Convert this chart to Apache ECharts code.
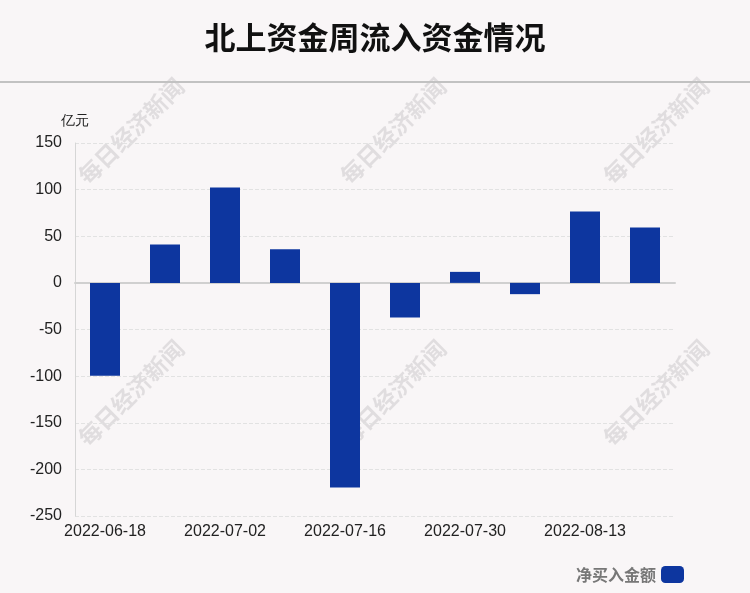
<!DOCTYPE html>
<html><head><meta charset="utf-8">
<script src="https://cdn.jsdelivr.net/npm/echarts@6/dist/echarts.min.js"></script>
<style>html,body{margin:0;padding:0;background:#f9f6f7}#c{width:750px;height:593px}</style>
</head><body><div id="c"></div>
<script>
var categories = ['2022-06-18','2022-06-25','2022-07-02','2022-07-09','2022-07-16','2022-07-23','2022-07-30','2022-08-06','2022-08-13','2022-08-20'];
var netBuy = [-99.5, 41.2, 102.3, 36.1, -219.4, -37.1, 11.8, -12.1, 76.6, 59.4];
var seriesName = '净买入金额';
var titleText = '北上资金周流入资金情况';
var unitName = '亿元';
var watermark = '每日经济新闻';

var chart = echarts.init(document.getElementById('c'));
var wmPos = [[131,131],[393,131],[656,131],[131,393],[393,393],[656,393]];
var graphics = wmPos.map(function(p){
  return {type:'text', x:p[0], y:p[1], rotation:Math.PI/4, z:-10, silent:true,
    style:{text:watermark, font:'bold 23px "Noto Sans CJK SC"', fill:'rgba(185,182,183,0.38)', align:'center', verticalAlign:'middle'}};
});
graphics.push({type:'line', shape:{x1:0,y1:82,x2:750,y2:82}, style:{stroke:'#c2c2c2', lineWidth:2}});
var lblFont = '"Liberation Sans", Arial, sans-serif';
chart.setOption({
  backgroundColor:'#f9f6f7',
  title:{text:titleText, left:'center', top:17, textStyle:{fontSize:31, fontWeight:'bold', color:'#111', fontFamily:'"Noto Sans CJK SC"'}},
  graphic:graphics,
  grid:{left:75, right:75, top:143, bottom:77},
  legend:{right:61, bottom:5, icon:'roundRect', itemWidth:23, itemHeight:17, align:'right', itemGap:6,
    textStyle:{fontSize:16, fontWeight:'bold', color:'#777', fontFamily:'"Noto Sans CJK SC"'}, data:[seriesName]},
  xAxis:[
    {type:'category', data:categories, position:'bottom', axisTick:{show:false},
     axisLine:{show:false, onZero:false},
     axisLabel:{interval:1, fontSize:16, color:'#222', margin:8, fontFamily:lblFont}},
    {type:'category', data:categories, position:'bottom', axisTick:{show:false},
     axisLine:{onZero:true, lineStyle:{color:'#d0d0d0', width:2}},
     axisLabel:{show:false}}
  ],
  yAxis:{type:'value', min:-250, max:150, interval:50, name:unitName,
    nameTextStyle:{fontSize:14, color:'#222', align:'center'}, nameGap:15,
    axisLine:{show:true, lineStyle:{color:'#d6d6d6'}}, axisTick:{show:false},
    axisLabel:{fontSize:16, color:'#222', margin:13, fontFamily:lblFont},
    splitLine:{lineStyle:{type:'dashed', color:'#e2e2e2'}}},
  series:[{name:seriesName, type:'bar', xAxisIndex:0, data:netBuy, barWidth:30, itemStyle:{color:'#0d369f'}}]
});
</script></body></html>
